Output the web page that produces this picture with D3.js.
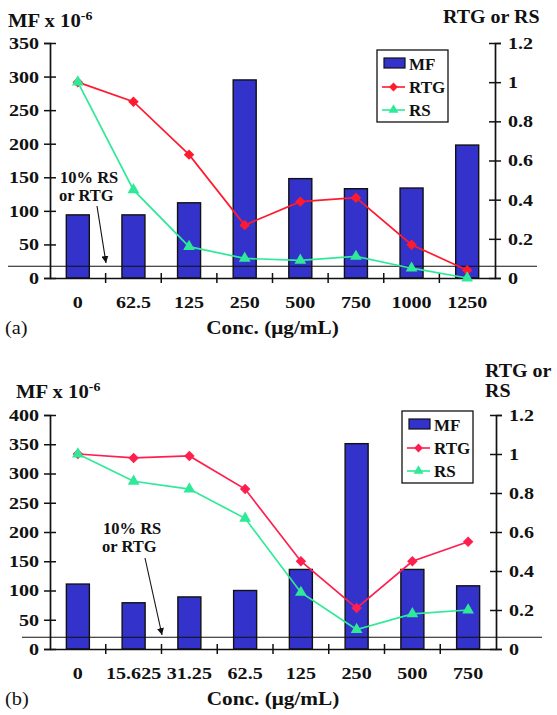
<!DOCTYPE html>
<html>
<head>
<meta charset="utf-8">
<script src="https://cdn.jsdelivr.net/npm/d3@7"></script>
<style>
body { margin: 0; background: #fff; }
text { font-family: "Liberation Serif", "Times New Roman", serif; font-weight: bold; fill: #111; }
</style>
</head>
<body>
<svg id="chart"></svg>
<script>
const width = 557, height = 715

// panel (a)
const concA = ["0", "62.5", "125", "250", "500", "750", "1000", "1250"]
const mfA = [94, 94, 112, 295, 148, 133, 134, 198]
const rtgA = [1.0, 0.90, 0.63, 0.27, 0.39, 0.41, 0.17, 0.04]
const rsA = [1.0, 0.45, 0.16, 0.10, 0.09, 0.11, 0.05, 0.0]
const mfTicksA = [0, 50, 100, 150, 200, 250, 300, 350]

// panel (b)
const concB = ["0", "15.625", "31.25", "62.5", "125", "250", "500", "750"]
const mfB = [111, 79, 89, 100, 136, 351, 136, 108]
const rtgB = [1.0, 0.98, 0.99, 0.82, 0.45, 0.21, 0.45, 0.55]
const rsB = [1.0, 0.86, 0.82, 0.67, 0.29, 0.10, 0.18, 0.20]
const mfTicksB = [0, 50, 100, 150, 200, 250, 300, 350, 400]

const ratioTicks = [0, 0.2, 0.4, 0.6, 0.8, 1, 1.2]
const cutoff = 0.06   // the "10% RS or RTG" reference line, read on the right axis

const BAR = "#3333cc", INK = "#111"
const SX = 1.18   // axis text in the original is stretched sideways

const svg = d3.select("#chart").attr("width", width).attr("height", height)

svg.append("defs").append("marker")
    .attr("id", "arrow")
    .attr("viewBox", "0 0 10 10")
    .attr("refX", 10).attr("refY", 5)
    .attr("markerWidth", 7).attr("markerHeight", 7)
    .attr("markerUnits", "userSpaceOnUse")
    .attr("orient", "auto")
    .append("path").attr("d", "M0,0L10,5L0,10Z").attr("fill", INK)

function label(g, x, y, str, size, opts = {}) {
    const sx = opts.sx === undefined ? SX : opts.sx
    return g.append("text")
        .attr("transform", `translate(${x},${y}) scale(${sx},1)`)
        .attr("text-anchor", opts.anchor || "start")
        .style("font-size", size + "px")
        .style("font-weight", opts.weight || "bold")
        .text(str)
}

drawPanel({
    cats: concA, mf: mfA, rtg: rtgA, rs: rsA, mfTicks: mfTicksA,
    left: 50, right: 495, top: 43, bottom: 278,
    rtgColor: "#ff1a2e", rsColor: "#2eea98",
    tag: "(a)", rightTitle: ["RTG or RS"], rightTitleX: 443, rightTitleY: 23,
    mfTitleX: 8, mfTitleY: 27,
    legend: [377, 50], note: [60, 183], arrow: [[97, 206], [106, 263]],
    refLine: [8, 537]
})

drawPanel({
    cats: concB, mf: mfB, rtg: rtgB, rs: rsB, mfTicks: mfTicksB,
    left: 50, right: 496, top: 415, bottom: 649,
    rtgColor: "#ff1f4e", rsColor: "#2eea98",
    tag: "(b)", rightTitle: ["RTG or", "RS"], rightTitleX: 485, rightTitleY: 377,
    mfTitleX: 16, mfTitleY: 398,
    legend: [402, 411], note: [103, 534], arrow: [[145, 558], [162, 635]],
    refLine: [22, 542]
})

function drawPanel(p) {
    const g = svg.append("g")
    const x = d3.scaleBand().domain(p.cats).range([p.left, p.right])
    const y = d3.scaleLinear().domain([0, d3.max(p.mfTicks)]).range([p.bottom, p.top])
    const y2 = d3.scaleLinear().domain([0, 1.2]).range([p.bottom, p.top])
    const barW = 23
    const cx = c => x(c) + x.bandwidth() / 2

    // bars
    g.selectAll(".bar")
        .data(p.cats.map((c, i) => ({ c, v: p.mf[i] })))
        .join("rect")
        .attr("x", d => cx(d.c) - barW / 2)
        .attr("y", d => y(d.v))
        .attr("width", barW)
        .attr("height", d => y(0) - y(d.v))
        .attr("fill", BAR)
        .attr("stroke", INK)
        .attr("stroke-width", 1.4)

    // reference line
    g.append("line")
        .attr("x1", p.refLine[0]).attr("x2", p.refLine[1])
        .attr("y1", y2(cutoff)).attr("y2", y2(cutoff))
        .attr("stroke", INK).attr("stroke-width", 1.1)

    // left axis
    g.append("g")
        .attr("transform", `translate(${p.left},0)`)
        .call(d3.axisLeft(y).tickValues(p.mfTicks).tickSize(6))
        .call(a => a.select(".domain").attr("stroke", INK).attr("stroke-width", 1.7))
        .call(a => a.selectAll(".tick line").attr("x1", 6).attr("stroke", INK).attr("stroke-width", 1.5))
        .call(a => a.selectAll("text")
            .attr("x", -11 / SX)
            .attr("transform", `scale(${SX},1)`)
            .style("font-size", "17px").attr("fill", INK))

    // right axis
    g.append("g")
        .attr("transform", `translate(${p.right},0)`)
        .call(d3.axisRight(y2).tickValues(ratioTicks).tickSize(6).tickFormat(d3.format("~g")))
        .call(a => a.select(".domain").attr("stroke", INK).attr("stroke-width", 1.7))
        .call(a => a.selectAll(".tick line").attr("x1", -6).attr("stroke", INK).attr("stroke-width", 1.5))
        .call(a => a.selectAll("text")
            .attr("x", 13 / SX)
            .attr("transform", `scale(${SX},1)`)
            .style("font-size", "17px").attr("fill", INK))

    // bottom axis: labels at band centres, ticks at band edges
    g.append("g")
        .attr("transform", `translate(0,${p.bottom})`)
        .call(d3.axisBottom(x).tickSize(0))
        .call(a => a.select(".domain").attr("stroke", INK).attr("stroke-width", 1.7))
        .call(a => a.selectAll("text")
            .attr("y", 30).attr("dy", null)
            .attr("transform", `scale(${SX},1)`)
            .style("font-size", "17px").attr("fill", INK))
    g.selectAll(".edge")
        .data(p.cats.slice(1))
        .join("line")
        .attr("x1", d => x(d)).attr("x2", d => x(d))
        .attr("y1", p.bottom - 5).attr("y2", p.bottom + 5)
        .attr("stroke", INK).attr("stroke-width", 1.5)

    // lines
    const series = [
        { vals: p.rtg, color: p.rtgColor, shape: d3.symbolDiamond2, size: 70 },
        { vals: p.rs, color: p.rsColor, shape: d3.symbolTriangle, size: 60 }
    ]
    for (const s of series) {
        const pts = p.cats.map((c, i) => [cx(c), y2(s.vals[i])])
        g.append("path")
            .attr("d", d3.line()(pts))
            .attr("fill", "none")
            .attr("stroke", s.color)
            .attr("stroke-width", 1.7)
        g.selectAll(null)
            .data(pts)
            .join("path")
            .attr("transform", d => `translate(${d[0]},${d[1]})`)
            .attr("d", d3.symbol(s.shape, s.size))
            .attr("fill", s.color)
    }

    // axis titles
    const mt = label(g, p.mfTitleX, p.mfTitleY, "MF x 10", 18.5, { sx: 1.12 })
    mt.append("tspan").attr("dy", -7).style("font-size", "12.5px").text("-6")
    p.rightTitle.forEach((t, i) => label(g, p.rightTitleX, p.rightTitleY + i * 20, t, 18.5, { sx: 1.08 }))
    label(g, (p.left + p.right) / 2, p.bottom + 56, "Conc. (μg/mL)", 18.5, { anchor: "middle", sx: 1.15 })
    label(g, 5, p.bottom + 56, p.tag, 18.5, { weight: "normal", sx: 1.1 })

    // note + arrow
    label(g, p.note[0], p.note[1], "10% RS", 16.5, { sx: 1 })
    label(g, p.note[0] - 1, p.note[1] + 18, "or RTG", 16.5, { sx: 1 })
    g.append("line")
        .attr("x1", p.arrow[0][0]).attr("y1", p.arrow[0][1])
        .attr("x2", p.arrow[1][0]).attr("y2", p.arrow[1][1])
        .attr("stroke", INK).attr("stroke-width", 1.1)
        .attr("marker-end", "url(#arrow)")

    // legend
    const [lx, ly] = p.legend
    const lg = g.append("g").attr("transform", `translate(${lx},${ly})`)
    lg.append("rect").attr("width", 71).attr("height", 72)
        .attr("fill", "#fff").attr("stroke", INK).attr("stroke-width", 1.3)
    lg.append("rect").attr("x", 7).attr("y", 8).attr("width", 21).attr("height", 10)
        .attr("fill", BAR).attr("stroke", INK).attr("stroke-width", 1.2)
    label(lg, 32, 20, "MF", 17, { sx: 1 })
    series.forEach((s, i) => {
        const yy = 37 + i * 23
        lg.append("line").attr("x1", 5).attr("x2", 28).attr("y1", yy).attr("y2", yy)
            .attr("stroke", s.color).attr("stroke-width", 1.6)
        lg.append("path").attr("transform", `translate(16.5,${yy})`)
            .attr("d", d3.symbol(s.shape, s.size * 0.7)).attr("fill", s.color)
        label(lg, 32, yy + 6, i === 0 ? "RTG" : "RS", 17, { sx: 1 })
    })
}
</script>
</body>
</html>
